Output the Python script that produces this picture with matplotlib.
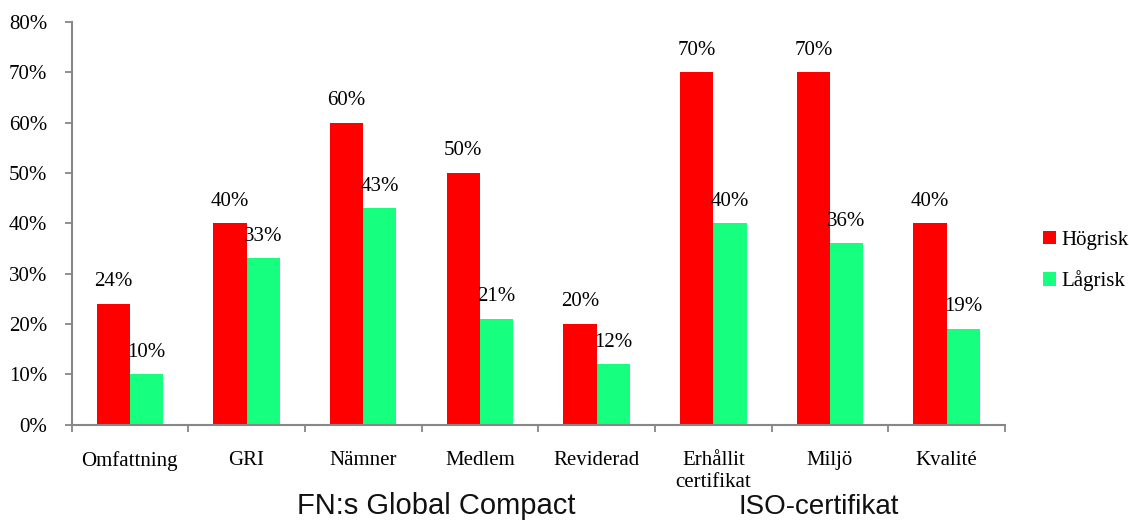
import numpy as np
import matplotlib.pyplot as plt
from matplotlib.ticker import FixedLocator, PercentFormatter

categories = ["Omfattning", "GRI", "Nämner", "Medlem", "Reviderad",
              "Erhållit\ncertifikat", "Miljö", "Kvalité"]
hogrisk = [24, 40, 60, 50, 20, 70, 70, 40]
lagrisk = [10, 33, 43, 21, 12, 40, 36, 19]
series_names = ["Högrisk", "Lågrisk"]
group_names = ["FN:s Global Compact", "ISO-certifikat"]

red = '#ff0000'
green = '#16ff7e'
axis_gray = '#878787'
serif = 'Liberation Serif'
fs = 15

fig = plt.figure(figsize=(11.29, 5.22), dpi=100)
ax = fig.add_axes([71.5 / 1129, 1 - 424.5 / 522, (1005 - 71.5) / 1129, (424.5 - 22) / 522])

index = np.arange(len(categories))
bar_width = 0.285

bars1 = ax.bar(index - bar_width / 2, hogrisk, bar_width, color=red, label=series_names[0])
bars2 = ax.bar(index + bar_width / 2, lagrisk, bar_width, color=green, label=series_names[1])

for bars, vals in ((bars1, hogrisk), (bars2, lagrisk)):
    for b, v in zip(bars, vals):
        ax.annotate(str(v) + "%", (b.get_x() + b.get_width() / 2, v),
                    xytext=(0, 9), textcoords='offset points',
                    ha='center', va='bottom', fontsize=fs, family=serif)

ax.set_xlim(-0.5, len(categories) - 0.5)
ax.set_ylim(0, 80)
ax.set_yticks(np.arange(0, 81, 10))
ax.yaxis.set_major_formatter(PercentFormatter(decimals=0))

ax.set_xticks(index)
ax.set_xticklabels(categories, fontsize=fs, family=serif)
ax.xaxis.set_minor_locator(FixedLocator(np.arange(-0.5, len(categories), 1)))
ax.tick_params(axis='x', which='major', length=0, pad=19)
ax.tick_params(axis='x', which='minor', length=5, width=1.3, color=axis_gray, direction='out')
ax.tick_params(axis='y', length=5, width=1.3, color=axis_gray, direction='out', pad=12.5)
for lbl in ax.get_yticklabels():
    lbl.set_family(serif)
    lbl.set_fontsize(fs)

for s in ('top', 'right'):
    ax.spines[s].set_visible(False)
for s in ('left', 'bottom'):
    ax.spines[s].set_color(axis_gray)
    ax.spines[s].set_linewidth(1.5)

leg = fig.legend(loc='center left', bbox_to_anchor=(1043 / 1129, 1 - 261 / 522),
                 frameon=False, prop={'family': serif, 'size': fs},
                 handlelength=0.6, handleheight=0.6, handletextpad=0.3,
                 labelspacing=1.0, borderpad=0, borderaxespad=0)

fig.text(436 / 1129, 1 - 514 / 522, group_names[0], ha='center', va='baseline',
         fontsize=21, family='Liberation Sans', color='#111111')
fig.text(819 / 1129, 1 - 514 / 522, group_names[1], ha='center', va='baseline',
         fontsize=20, family='Liberation Sans', color='#111111')

fig.savefig('out.png', dpi=100)
